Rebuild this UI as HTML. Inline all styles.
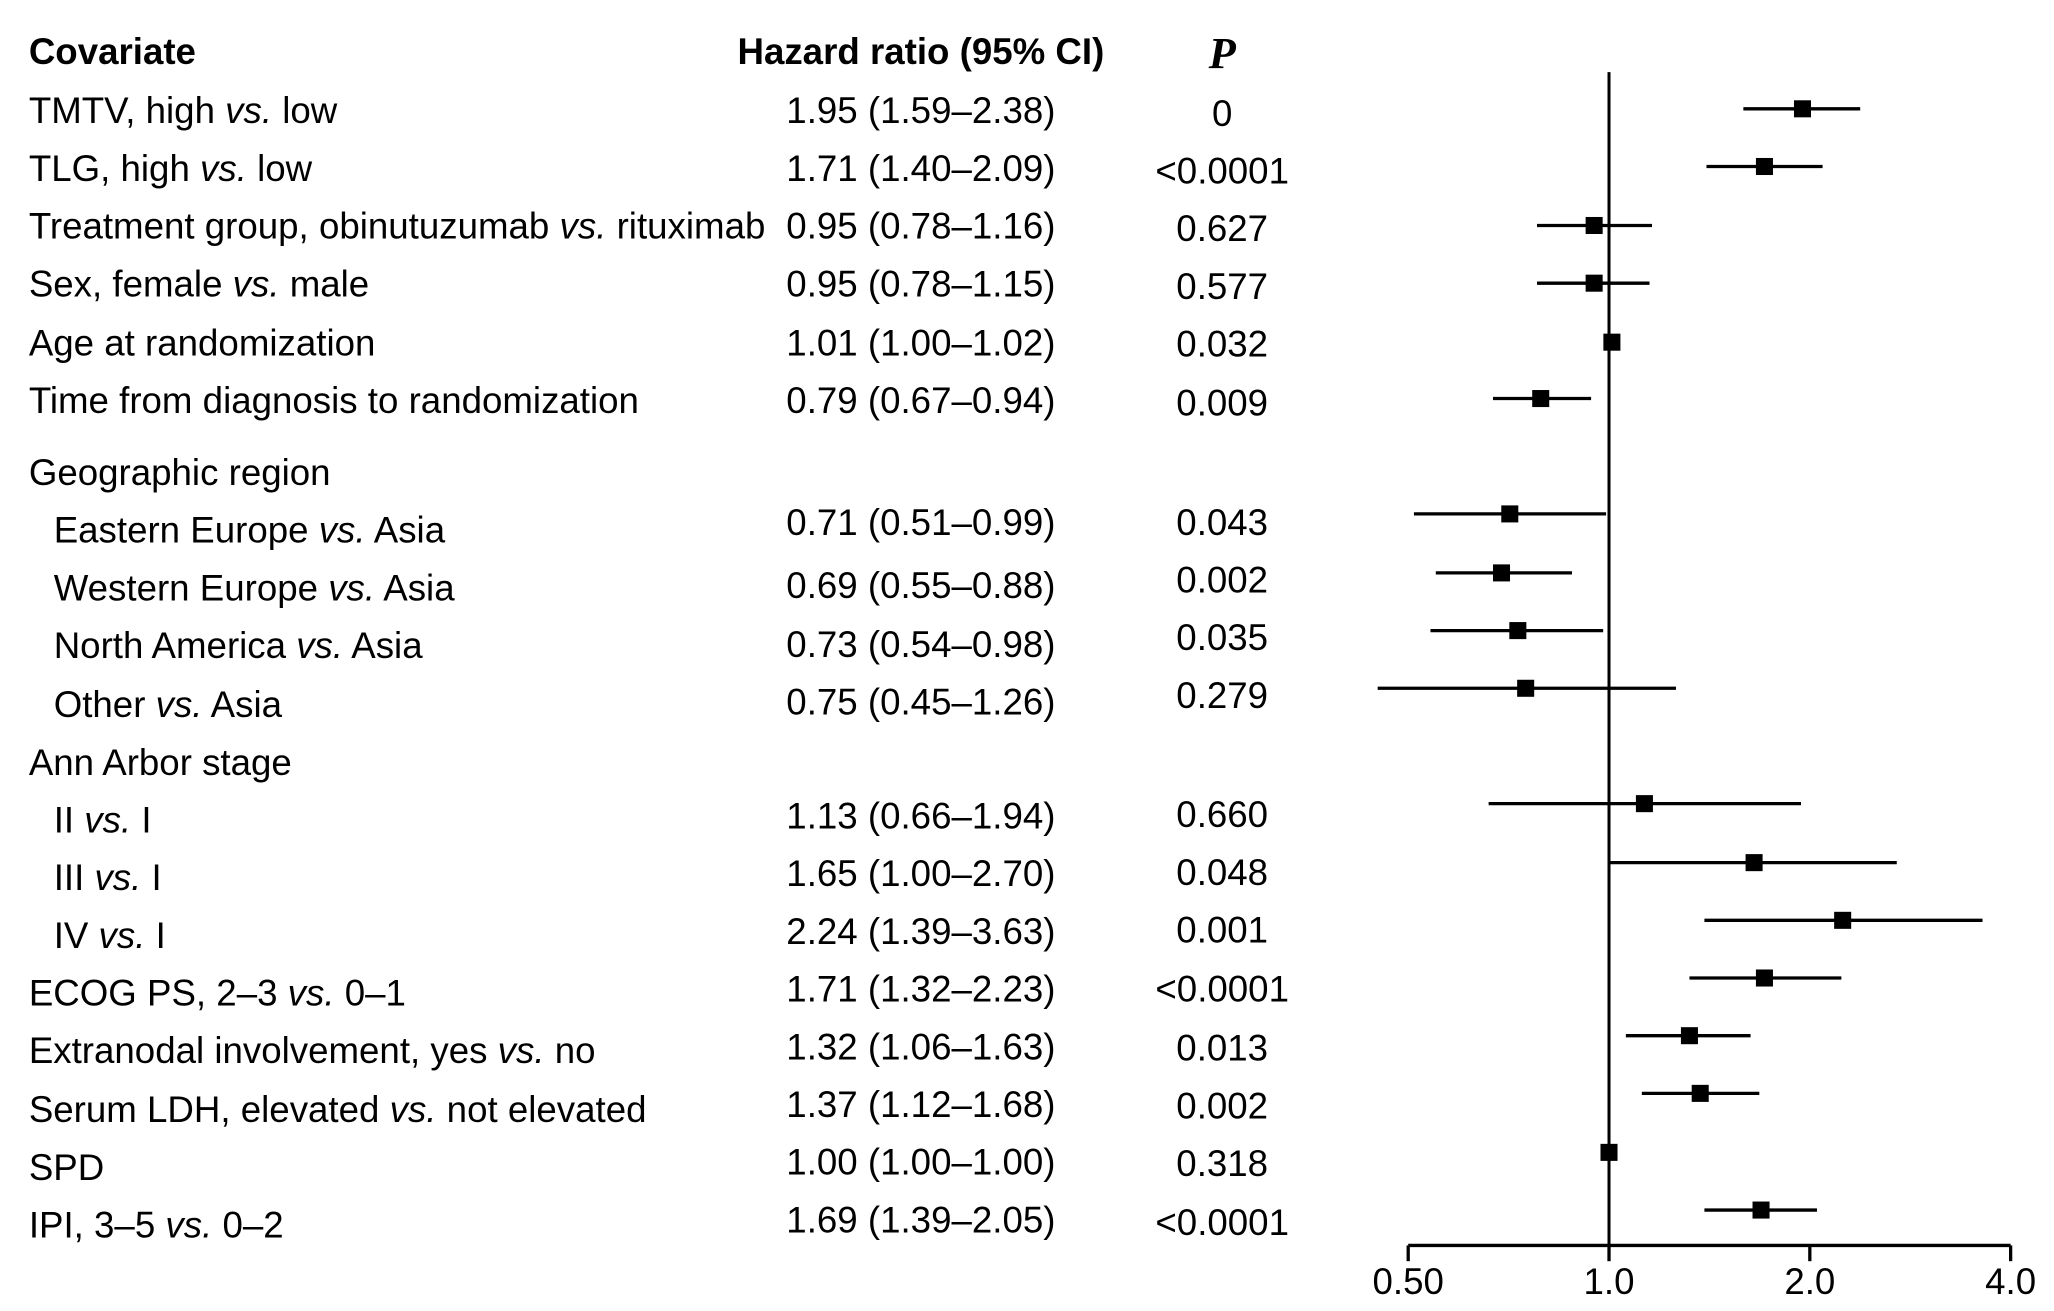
<!DOCTYPE html>
<html><head><meta charset="utf-8"><style>
html,body{margin:0;padding:0;background:#fff;}
svg{display:block;}
text{font-family:"Liberation Sans",Arial,sans-serif;font-size:28px;fill:#000;}
</style></head><body>
<svg id="chart" width="2054" height="1311" viewBox="0 0 1568 1000" preserveAspectRatio="none" xmlns="http://www.w3.org/2000/svg">
<g id="head">
<text x="22" y="49" font-weight="bold">Covariate</text>
<text x="703" y="49" font-weight="bold" text-anchor="middle">Hazard ratio (95% CI)</text>
<text x="933" y="52" text-anchor="middle" style="font-family:'Liberation Serif',serif;font-style:italic;font-weight:bold;font-size:34px">P</text>
</g>
<g id="rows"></g>
<g id="plot"></g>
</svg>
<script>
const labels = ["TMTV, high |vs.| low","TLG, high |vs.| low","Treatment group, obinutuzumab |vs.| rituximab","Sex, female |vs.| male","Age at randomization","Time from diagnosis to randomization","Geographic region","Eastern Europe |vs.| Asia","Western Europe |vs.| Asia","North America |vs.| Asia","Other |vs.| Asia","Ann Arbor stage","II |vs.| I","III |vs.| I","IV |vs.| I","ECOG PS, 2–3 |vs.| 0–1","Extranodal involvement, yes |vs.| no","Serum LDH, elevated |vs.| not elevated","SPD","IPI, 3–5 |vs.| 0–2"];
const hr = [1.95,1.71,0.95,0.95,1.01,0.79,null,0.71,0.69,0.73,0.75,null,1.13,1.65,2.24,1.71,1.32,1.37,1.00,1.69];
const lo = [1.59,1.40,0.78,0.78,1.00,0.67,null,0.51,0.55,0.54,0.45,null,0.66,1.00,1.39,1.32,1.06,1.12,1.00,1.39];
const hi = [2.38,2.09,1.16,1.15,1.02,0.94,null,0.99,0.88,0.98,1.26,null,1.94,2.70,3.63,2.23,1.63,1.68,1.00,2.05];
const pvals = ["0","<0.0001","0.627","0.577","0.032","0.009","","0.043","0.002","0.035","0.279","","0.660","0.048","0.001","<0.0001","0.013","0.002","0.318","<0.0001"];
const indent = [0,0,0,0,0,0,0,1,1,1,1,0,1,1,1,0,0,0,0,0];
const ticks = [0.5,1,2,4];
const tickLabels = ["0.50","1.0","2.0","4.0"];
// layout (display units)
const labY = [84,128,172,216,261,305,360,404,448,492,537,581,625,669,713,757,801,846,890,934];
const hrY  = [84,128,172,216,261,305,360,398,446,491,535,581,622,666,710,754,798,842,886,930];
const pY   = [86,130,174,218,262,307,360,398,442,486,530,581,621,665,709,754,799,843,887,932];
const mY   = [83,127,172,216,261,304,360,392,437,481,525,581,613,658,702,746,790,834,879,923];
const NS="http://www.w3.org/2000/svg";
function x(v){return 1075+(Math.log2(v)-Math.log2(0.5))*153.3;}
function mk(tag,attrs,parent){const e=document.createElementNS(NS,tag);for(const k in attrs)e.setAttribute(k,attrs[k]);parent.appendChild(e);return e;}
const rows=document.getElementById('rows'), plot=document.getElementById('plot');
labels.forEach((l,i)=>{
  const t=mk('text',{x:indent[i]?41:22,y:labY[i]+10},rows);
  
  
  l.split('|').forEach(part=>{const s=mk('tspan',{},t); if(part==='vs.') s.setAttribute('font-style','italic'); s.textContent=part;});
  if(hr[i]!==null){
    const h=mk('text',{x:703,y:hrY[i]+10,'text-anchor':'middle'},rows);
    
    
    h.textContent=hr[i].toFixed(2)+' ('+lo[i].toFixed(2)+'–'+hi[i].toFixed(2)+')';
    const p=mk('text',{x:933,y:pY[i]+10,'text-anchor':'middle'},rows);
    
    
    p.textContent=pvals[i];
    const ci=mk('line',{x1:x(lo[i]),x2:x(hi[i]),y1:mY[i],y2:mY[i],stroke:'#000','stroke-width':2.5},plot);
    
    
    const sq=mk('rect',{x:x(hr[i])-6.5,y:mY[i]-6.5,width:13,height:13,fill:'#000'},plot);
    
    
  }
});
const ref=mk('line',{x1:x(1),x2:x(1),y1:55,y2:950,stroke:'#000','stroke-width':2.3},plot);


const ax=mk('line',{x1:x(0.5),x2:x(4),y1:950,y2:950,stroke:'#000','stroke-width':2.5},plot);


ticks.forEach((v,i)=>{
  const tk=mk('line',{x1:x(v),x2:x(v),y1:950,y2:962,stroke:'#000','stroke-width':2.5},plot);
  
  
  const tl=mk('text',{x:x(v),y:987,'text-anchor':'middle'},plot);
  
  
  tl.textContent=tickLabels[i];
});
</script>
</body></html>
